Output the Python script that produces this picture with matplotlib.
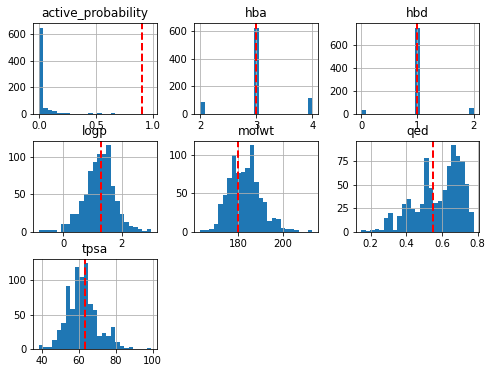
import numpy as np
import matplotlib
matplotlib.use("Agg")
import matplotlib.pyplot as plt

# column names, in the order pandas lays them out
columns = ["active_probability", "hba", "hbd", "logp", "molwt", "qed", "tpsa"]

# histogram counts (25 bins each)
active_probability = [650, 45, 32, 18, 10, 10, 10, 0, 0, 0, 0, 10, 0, 10, 0, 0, 10,
                      0, 0, 0, 0, 0, 0, 0, 1]
hba = [84, 0, 0, 0, 0, 0, 0, 0, 0, 0, 0, 0, 624, 0, 0, 0, 0, 0, 0, 0, 0, 0, 0, 0, 116]
hbd = [31, 0, 0, 0, 0, 0, 0, 0, 0, 0, 0, 0, 746, 0, 0, 0, 0, 0, 0, 0, 0, 0, 0, 0, 51]
logp = [2, 2, 2, 2, 0, 10, 10, 23, 24, 41, 51, 81, 93, 104, 105, 116, 61, 41, 23, 13,
        7, 6, 4, 1, 3]
molwt = [2, 2, 4, 10, 36, 47, 69, 100, 76, 78, 82, 112, 64, 44, 39, 14, 18, 16, 5, 3,
         3, 2, 0, 0, 2]
qed = [2, 1, 2, 3, 2, 15, 20, 2, 17, 29, 35, 24, 21, 29, 78, 46, 31, 33, 44, 70, 92,
       81, 75, 51, 21]
tpsa = [6, 3, 3, 13, 28, 38, 92, 58, 119, 105, 125, 66, 57, 20, 23, 19, 32, 10, 5, 2,
        3, 0, 0, 0, 2]

# min / max of each column (histogram range)
data_min = [0.0, 2, 0, -0.84, 163.2, 0.148, 38.2]
data_max = [0.985, 4, 2, 3.02, 213.1, 0.778, 99.3]

# reference value drawn as the red dashed line
ref_values = [0.9, 3, 1, 1.3, 180, 0.55, 63.3]

counts = [active_probability, hba, hbd, logp, molwt, qed, tpsa]

fig, axes = plt.subplots(3, 3, figsize=(492 / 72, 373 / 72), dpi=72)
fig.subplots_adjust(left=0.0677, right=0.974, bottom=0.0635, top=0.9375,
                    wspace=0.304, hspace=0.3)

for ax, name, c, lo, hi, ref in zip(axes.flat, columns, counts, data_min, data_max, ref_values):
    edges = np.linspace(lo, hi, len(c) + 1)
    ax.hist(edges[:-1], bins=edges, weights=c)
    ax.axvline(ref, color="red", linestyle="--", linewidth=2)
    ax.set_title(name)
    ax.grid(True)

# hide the unused grid cells
for ax in axes.flat[len(columns):]:
    ax.set_visible(False)

fig.savefig("out.png", dpi=72)
